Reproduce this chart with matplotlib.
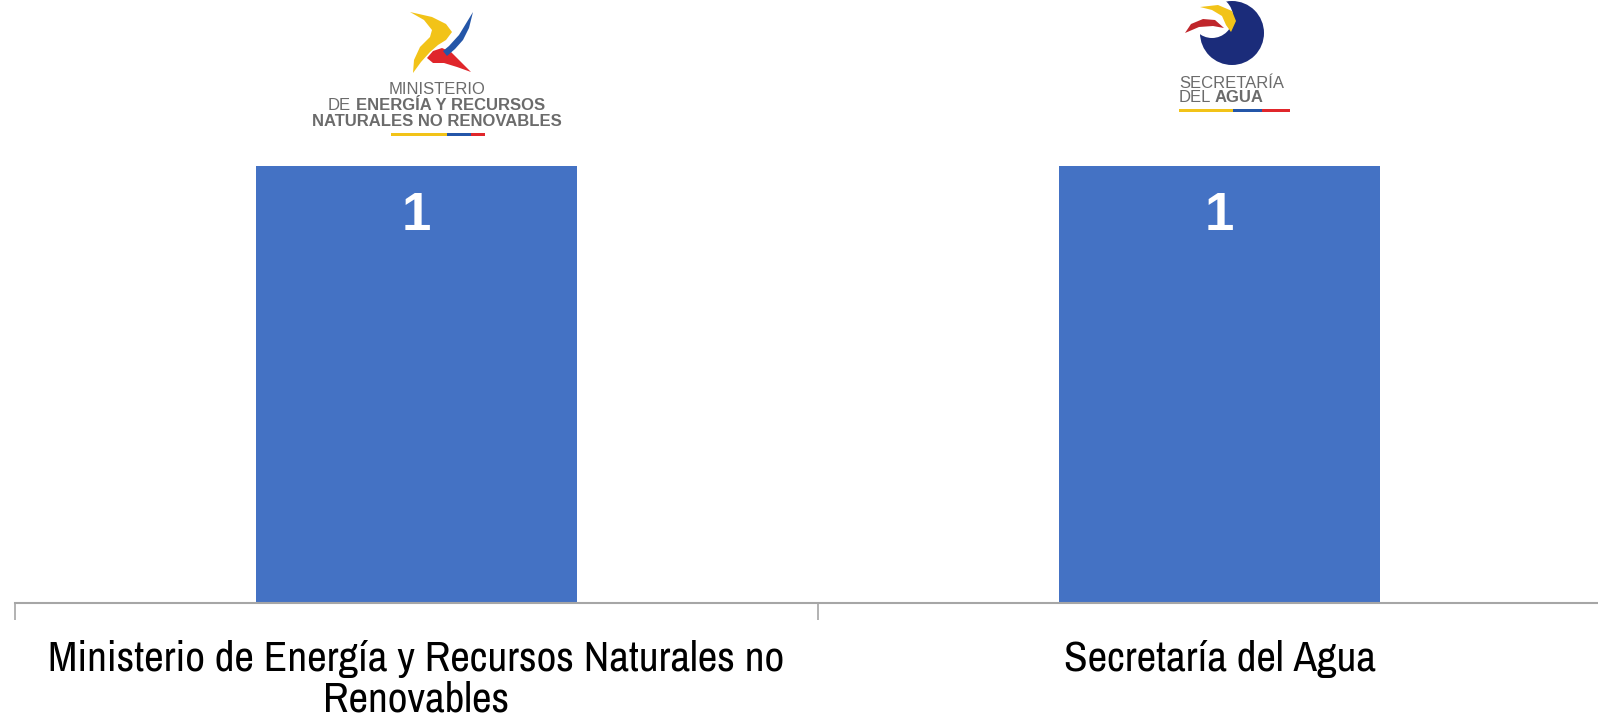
import numpy as np
import matplotlib.pyplot as plt
from matplotlib.patches import Polygon, Circle, Rectangle

# datos
instituciones = ['Ministerio de Energía y Recursos Naturales no\nRenovables', 'Secretaría del Agua']
valores = [1, 1]

azul = '#4472C4'
narrow = ['Archivo Narrow', 'Roboto Condensed', 'Liberation Sans', 'DejaVu Sans']
arial = ['Liberation Sans', 'DejaVu Sans']

fig = plt.figure(figsize=(15.98, 7.23), dpi=100)
W, H = 1598, 723
ax = fig.add_axes([15 / W, (H - 603) / H, 1606 / W, (603 - 166) / H])

x = np.arange(len(instituciones))
barras = ax.bar(x, valores, width=0.4, color=azul, zorder=2)
ax.set_xlim(-0.5, 1.5)
ax.set_ylim(0, 1)

for b, v in zip(barras, valores):
    ax.text(b.get_x() + b.get_width() / 2, v - 0.115, str(v), ha='center', va='center',
            color='white', fontsize=38, fontweight='bold', family=arial)

ax.set_xticks(x)
ax.set_xticklabels(instituciones, fontsize=31, family=narrow, linespacing=1.05)
ax.set_xticks([-0.5, 0.5], minor=True)
ax.tick_params(axis='x', which='major', length=0, pad=27)
ax.tick_params(axis='x', which='minor', length=12, color='#a6a6a6', width=1.2)
ax.set_yticks([])
for s in ['top', 'right', 'left']:
    ax.spines[s].set_visible(False)
ax.spines['bottom'].set_color('#a6a6a6')
ax.spines['bottom'].set_linewidth(1.5)

# logos (aproximados) en coordenadas de pixel
lg = fig.add_axes([0, 0, 1, 1], zorder=-1)
lg.set_xlim(0, W)
lg.set_ylim(H, 0)
lg.axis('off')

amarillo, azul_ec, rojo, gris = '#F2C318', '#2456A8', '#E0262B', '#6b6b6b'

# Ministerio: molinete
lg.add_patch(Polygon([[410, 12], [432, 17], [446, 24], [452, 32], [446, 40], [438, 45], [430, 52],
                      [421, 62], [413, 73], [414, 60], [420, 47], [430, 37], [432, 30], [424, 20]],
                     closed=True, color=amarillo, lw=0))
lg.add_patch(Polygon([[427, 58], [433, 51], [442, 48], [451, 52], [461, 62], [471, 72], [457, 67],
                      [444, 63], [433, 63]], closed=True, color=rojo, lw=0))
lg.add_patch(Polygon([[473, 12], [469, 28], [463, 40], [455, 49], [447, 56], [443, 51], [449, 46],
                      [459, 35]], closed=True, color=azul_ec, lw=0))
lg.text(437, 90, 'MINISTERIO', ha='center', va='center', fontsize=12, color=gris, family=arial)
lg.text(328, 105.5, 'DE', ha='left', va='center', fontsize=12, color=gris, family=arial)
lg.text(545, 105.5, 'ENERGÍA Y RECURSOS', ha='right', va='center', fontsize=12, color=gris,
        fontweight='bold', family=arial)
lg.text(437, 121, 'NATURALES NO RENOVABLES', ha='center', va='center', fontsize=12, color=gris,
        fontweight='bold', family=arial)
lg.add_patch(Rectangle((391, 133), 56, 3, color=amarillo, lw=0))
lg.add_patch(Rectangle((447, 133), 24, 3, color=azul_ec, lw=0))
lg.add_patch(Rectangle((471, 133), 14, 3, color=rojo, lw=0))

# Secretaría del Agua
lg.add_patch(Circle((1232, 33), 32, color='#1B2C7A', lw=0))
lg.add_patch(Circle((1212, 17), 21, color='white', lw=0))
lg.add_patch(Polygon([[1200, 7], [1218, 5], [1232, 11], [1236, 21], [1231, 32], [1226, 25],
                      [1222, 16], [1212, 10]], closed=True, color=amarillo, lw=0))
lg.add_patch(Polygon([[1185, 33], [1191, 24], [1203, 19], [1215, 20], [1224, 28], [1213, 26],
                      [1199, 27]], closed=True, color='#C0262B', lw=0))
lg.text(1179, 83, 'SECRETARÍA', ha='left', va='center', fontsize=12, color=gris, family=arial)
lg.text(1179, 98, 'DEL', ha='left', va='center', fontsize=12, color=gris, family=arial)
lg.text(1215, 98, 'AGUA', ha='left', va='center', fontsize=12, color=gris, fontweight='bold', family=arial)
lg.add_patch(Rectangle((1179, 109), 54, 3, color=amarillo, lw=0))
lg.add_patch(Rectangle((1233, 109), 29, 3, color=azul_ec, lw=0))
lg.add_patch(Rectangle((1262, 109), 28, 3, color=rojo, lw=0))

fig.savefig('out.png', dpi=100)
